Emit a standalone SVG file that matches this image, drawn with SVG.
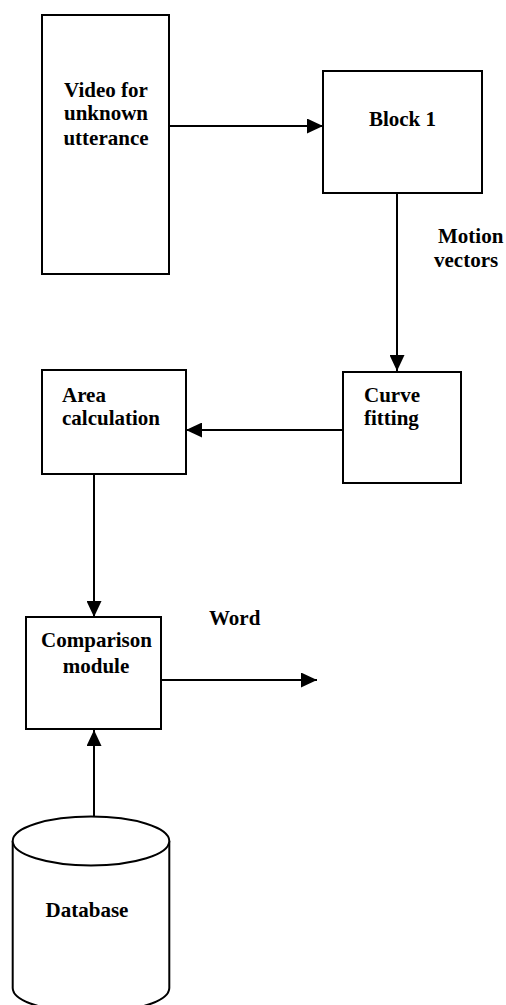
<svg xmlns="http://www.w3.org/2000/svg" width="506" height="1005" viewBox="0 0 506 1005">
<style>
.box{fill:#fff;stroke:#000;stroke-width:2}
.con{fill:none;stroke:#000;stroke-width:2}
</style>
<defs>
<marker id="ah" viewBox="0 0 16 15" refX="16" refY="7.5" markerWidth="16" markerHeight="15" markerUnits="userSpaceOnUse" orient="auto">
<path d="M0,0 L16,7.5 L0,15 Z" fill="#000"/>
</marker>
</defs>
<rect width="506" height="1005" fill="#fff"/>
<g id="connectors">
<line class="con" x1="169" y1="126" x2="323" y2="126" marker-end="url(#ah)"/>
<line class="con" x1="397" y1="193" x2="397" y2="371" marker-end="url(#ah)"/>
<line class="con" x1="343" y1="430" x2="186" y2="430" marker-end="url(#ah)"/>
<line class="con" x1="94" y1="474" x2="94" y2="617" marker-end="url(#ah)"/>
<line class="con" x1="161" y1="680" x2="317" y2="680" marker-end="url(#ah)"/>
<line class="con" x1="94" y1="841" x2="94" y2="730" marker-end="url(#ah)"/>
</g>
<g font-family="'Liberation Serif', 'Times New Roman', 'DejaVu Serif', serif" font-weight="bold" font-size="21" fill="#000">
<g id="video">
<rect class="box" x="42" y="15" width="127" height="259"/>
<text text-anchor="middle" x="106" y="97">Video for</text>
<text text-anchor="middle" x="106" y="120">unknown</text>
<text text-anchor="middle" x="106" y="145">utterance</text>
</g>
<g id="block1">
<rect class="box" x="323" y="71" width="159" height="122"/>
<text text-anchor="middle" x="402.5" y="126">Block 1</text>
</g>
<g id="motion-label">
<text x="438" y="243">Motion</text>
<text x="434" y="267">vectors</text>
</g>
<g id="curve">
<rect class="box" x="343" y="372" width="118" height="111"/>
<text x="364" y="402">Curve</text>
<text x="364" y="425">fitting</text>
</g>
<g id="area">
<rect class="box" x="42" y="370" width="144" height="104"/>
<text x="62" y="402">Area</text>
<text x="62" y="425">calculation</text>
</g>
<g id="comparison">
<rect class="box" x="26" y="617" width="135" height="112"/>
<text text-anchor="middle" x="96.5" y="647">Comparison</text>
<text text-anchor="middle" x="96" y="673">module</text>
</g>
<g id="word-label">
<text x="209" y="625">Word</text>
</g>
<g id="database">
<path class="box" d="M12.7,841 L12.7,988 A78.3,24.5 0 0 0 169.3,988 L169.3,841"/>
<ellipse class="box" cx="91" cy="841" rx="78.3" ry="24.5" fill="none"/>
<text text-anchor="middle" x="87" y="917">Database</text>
</g>
</g>
</svg>
